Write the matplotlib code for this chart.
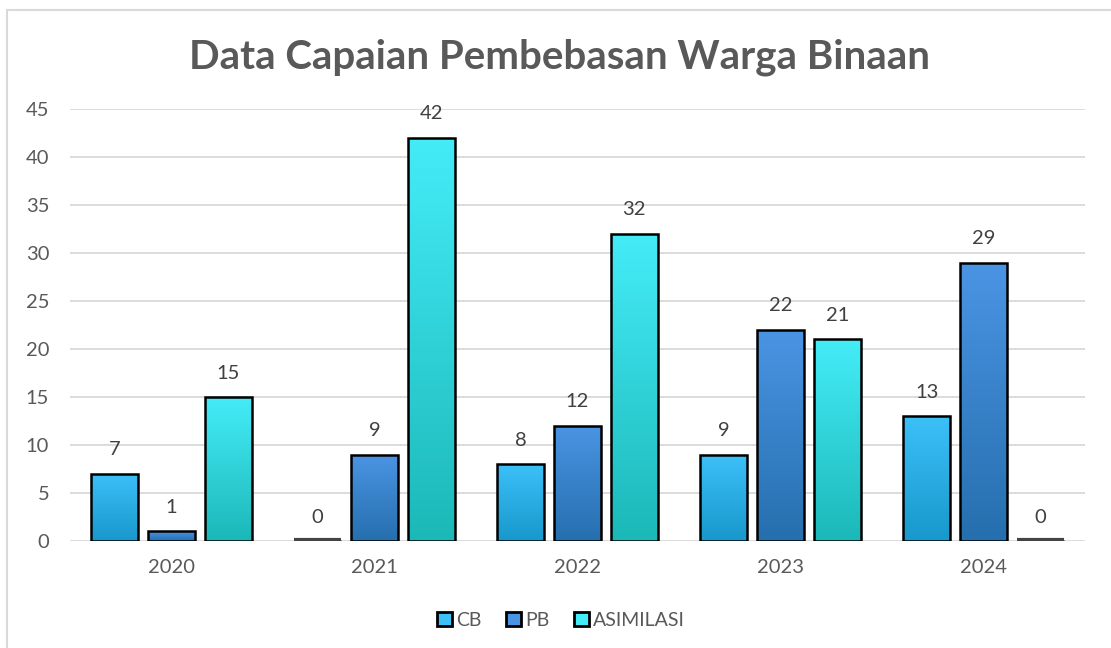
import numpy as np
import matplotlib
matplotlib.use('Agg')
import matplotlib.pyplot as plt
from matplotlib.patches import Rectangle
from matplotlib.colors import LinearSegmentedColormap

# data
years = ['2020', '2021', '2022', '2023', '2024']
series_names = ['CB', 'PB', 'ASIMILASI']
cb = [7, 0, 8, 9, 13]
pb = [1, 9, 12, 22, 29]
asimilasi = [15, 42, 32, 21, 0]

# warna gradasi (atas, bawah)
grad = {
    'CB': ('#3cc0f8', '#1898cc'),
    'PB': ('#4a94e4', '#266fae'),
    'ASIMILASI': ('#44ecf8', '#1cb8b8'),
}

plt.rcParams['font.family'] = ['Lato', 'DejaVu Sans']

fig = plt.figure(figsize=(11.11, 6.48), dpi=100)
ax = fig.add_axes([0.063, 0.1651, 0.9136, 0.6667])

# bingkai luar
fig.patches.append(Rectangle((7 / 1111, -0.1), 1.2, 1 - 10 / 648 + 0.1,
                             transform=fig.transFigure, fill=False,
                             edgecolor='#d9d9d9', linewidth=1.5))

x = np.arange(len(years))
width = 0.23
offset = 0.28

def gradient_bar(ax, xc, h, c_top, c_bot):
    rect = Rectangle((xc - width / 2, 0), width, h, facecolor='none',
                     edgecolor='black', linewidth=1.8, zorder=3)
    ax.add_patch(rect)
    if h > 0:
        cmap = LinearSegmentedColormap.from_list('g', [c_bot, c_top])
        img = ax.imshow(np.linspace(0, 1, 100).reshape(-1, 1), cmap=cmap,
                        extent=[xc - width / 2, xc + width / 2, 0, h],
                        origin='lower', aspect='auto', zorder=2)
        img.set_clip_path(rect)
    else:
        ax.plot([xc - width / 2, xc + width / 2], [0.12, 0.12], color='#444444',
                lw=3, zorder=3, solid_capstyle='butt')

for i, (name, vals) in enumerate(zip(series_names, [cb, pb, asimilasi])):
    for j, v in enumerate(vals):
        xc = x[j] + (i - 1) * offset
        gradient_bar(ax, xc, v, *grad[name])
        ax.text(xc, v + 1.6, str(v), ha='center', va='bottom',
                fontsize=14.5, color='#404040')

ax.set_xlim(-0.5, 4.5)
ax.set_ylim(0, 45)
ax.set_yticks(range(0, 46, 5))
ax.set_xticks(x)
ax.set_xticklabels(years)
ax.tick_params(axis='both', length=0, labelsize=14.5, labelcolor='#595959')
ax.tick_params(axis='x', pad=13)
ax.tick_params(axis='y', pad=15)
for lbl in ax.get_yticklabels():
    lbl.set_horizontalalignment('right')
ax.grid(axis='y', color='#d9d9d9', linewidth=1.3, zorder=0)
ax.set_axisbelow(True)
for s in ax.spines.values():
    s.set_visible(False)

fig.text(0.504, 0.912, 'Data Capaian Pembebasan Warga Binaan', ha='center',
         va='center', fontsize=29, fontweight='bold', color='#595959')

handles = [Rectangle((0, 0), 1, 1, facecolor=grad[n][0], edgecolor='black',
                     linewidth=2) for n in series_names]
fig.legend(handles, series_names, loc='center', bbox_to_anchor=(0.505, 0.043),
           ncol=3, frameon=False, fontsize=14, handlelength=0.75,
           handleheight=0.75, handletextpad=0.2, columnspacing=1.3,
           labelcolor='#595959')

fig.savefig('out.png', dpi=100)
